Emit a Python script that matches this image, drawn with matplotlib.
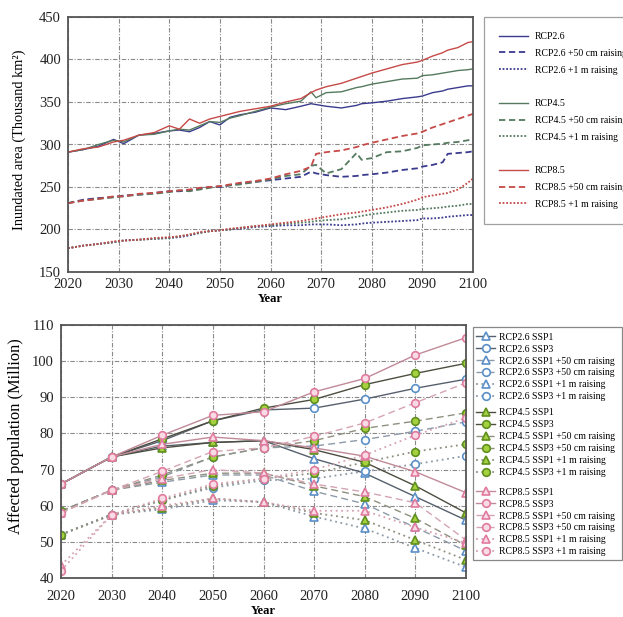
import matplotlib
matplotlib.use("Agg")
import matplotlib.pyplot as plt
from matplotlib.lines import Line2D
from matplotlib.patches import Rectangle

plt.rcParams['font.family'] = ['Liberation Serif', 'DejaVu Serif']

# ---------------- Top panel data (inundated area, thousand km2) ----------------
top_years = [2020, 2023, 2026, 2029, 2031, 2034, 2037, 2040, 2042, 2044, 2046, 2048,
             2050, 2052, 2054, 2057, 2060, 2063, 2066, 2068, 2069, 2071, 2074, 2077,
             2078, 2080, 2083, 2086, 2089, 2090, 2092, 2094, 2095, 2097, 2099, 2100]

rcp26 = [291, 294, 298, 306, 301, 311, 313, 316, 317, 315, 320, 327,
         323, 332, 335, 338, 343, 341, 345, 348, 347, 345, 343, 346,
         348, 349, 351, 354, 356, 357, 361, 363, 365, 367, 369, 369]
rcp45 = [291, 294, 300, 305, 303, 311, 312, 316, 318, 317, 322, 327,
         326, 331, 334, 339, 344, 348, 351, 362, 355, 361, 362, 367,
         368, 371, 374, 377, 378, 381, 382, 384, 385, 387, 388, 389]
rcp85 = [291, 295, 297, 303, 305, 311, 314, 322, 318, 330, 325, 330,
         333, 336, 339, 342, 345, 350, 354, 361, 364, 368, 372, 378,
         380, 384, 389, 394, 397, 399, 404, 408, 411, 414, 420, 421]

rcp26_50 = [231, 235, 237, 238, 240, 241, 243, 245, 245, 246, 248, 250,
            250, 252, 254, 256, 258, 260, 262, 268, 266, 264, 262, 263,
            264, 265, 267, 270, 272, 274, 276, 279, 289, 290, 291, 292]
rcp45_50 = [231, 234, 236, 238, 239, 241, 242, 244, 246, 245, 247, 249,
            251, 252, 253, 256, 259, 263, 265, 275, 276, 266, 271, 290,
            282, 284, 291, 292, 296, 299, 300, 301, 302, 303, 305, 306]
rcp85_50 = [231, 234, 236, 239, 239, 242, 243, 245, 246, 247, 249, 250,
            251, 253, 255, 257, 260, 265, 269, 274, 289, 291, 293, 297,
            299, 302, 306, 310, 313, 315, 320, 324, 326, 330, 334, 336]

rcp26_1m = [178, 181, 183, 185, 187, 188, 189, 190, 191, 193, 196, 198,
            199, 200, 201, 203, 204, 205, 205, 206, 206, 206, 205, 206,
            207, 208, 209, 210, 211, 213, 213, 214, 215, 216, 217, 217]
rcp45_1m = [178, 181, 183, 185, 187, 188, 189, 190, 192, 194, 196, 198,
            199, 200, 202, 204, 205, 207, 208, 209, 210, 211, 212, 215,
            216, 218, 220, 222, 223, 224, 225, 226, 227, 228, 230, 230]
rcp85_1m = [178, 181, 183, 186, 187, 188, 190, 191, 192, 194, 197, 198,
            199, 201, 202, 204, 206, 208, 210, 212, 213, 215, 218, 220,
            221, 223, 226, 230, 235, 238, 240, 242, 243, 247, 255, 260]

top_labels = ['RCP2.6', 'RCP2.6 +50 cm raising', 'RCP2.6 +1 m raising',
              'RCP4.5', 'RCP4.5 +50 cm raising', 'RCP4.5 +1 m raising',
              'RCP8.5', 'RCP8.5 +50 cm raising', 'RCP8.5 +1 m raising']

# ---------------- Bottom panel data (affected population, million) ----------------
pop_years = [2020, 2030, 2040, 2050, 2060, 2070, 2080, 2090, 2100]

r26_ssp1 = [66, 73.5, 76.5, 77.5, 78, 73, 69, 62.5, 56]
r26_ssp3 = [66, 73.5, 78, 83.5, 86.5, 87, 89.5, 92.5, 95]
r26_ssp1_50 = [58.5, 64.3, 66.5, 68.5, 68.5, 64, 60.5, 54, 47.5]
r26_ssp3_50 = [58.5, 64.3, 68, 73.5, 76, 76.5, 78.3, 80.6, 83.2]
r26_ssp1_1m = [52, 57.5, 59, 61.5, 61, 57, 53.7, 48.3, 43]
r26_ssp3_1m = [52, 57.5, 61.5, 65, 67, 67.5, 69.5, 71.5, 73.8]

r45_ssp1 = [66, 73.5, 76, 77.5, 78, 75.5, 72, 65.5, 58]
r45_ssp3 = [66, 73.5, 78.5, 83.5, 87, 89.4, 93.5, 96.6, 99.4]
r45_ssp1_50 = [58.5, 64.3, 67, 69, 69, 65.5, 62.5, 56.5, 49]
r45_ssp3_50 = [58.5, 64.3, 68.5, 73.5, 76, 78, 81.4, 83.4, 85.7]
r45_ssp1_1m = [52, 57.5, 59.5, 62, 61, 58, 56, 50.5, 45]
r45_ssp3_1m = [52, 57.5, 61.5, 65.5, 67.5, 69, 72, 75, 77]

r85_ssp1 = [66, 73.5, 77, 79, 78, 76, 73.7, 69.4, 63.6]
r85_ssp3 = [66, 73.5, 79.5, 85, 86, 91.5, 95.2, 101.7, 106.5]
r85_ssp1_50 = [58, 64.3, 67.5, 70, 69, 66, 63.8, 60.8, 50.5]
r85_ssp3_50 = [58, 64.3, 69.5, 75, 76, 79.2, 82.9, 88.5, 94]
r85_ssp1_1m = [43.5, 57.5, 60, 62, 61, 58.6, 58.6, 54, 49.7]
r85_ssp3_1m = [42, 57.5, 62, 66, 67.5, 70, 74, 79.5, 84.3]

pop_labels = ['RCP2.6 SSP1', 'RCP2.6 SSP3', 'RCP2.6 SSP1 +50 cm raising',
              'RCP2.6 SSP3 +50 cm raising', 'RCP2.6 SSP1 +1 m raising', 'RCP2.6 SSP3 +1 m raising',
              'RCP4.5 SSP1', 'RCP4.5 SSP3', 'RCP4.5 SSP1 +50 cm raising',
              'RCP4.5 SSP3 +50 cm raising', 'RCP4.5 SSP1 +1 m raising', 'RCP4.5 SSP3 +1 m raising',
              'RCP8.5 SSP1', 'RCP8.5 SSP3', 'RCP8.5 SSP1 +50 cm raising',
              'RCP8.5 SSP3 +50 cm raising', 'RCP8.5 SSP1 +1 m raising', 'RCP8.5 SSP3 +1 m raising']

# ---------------- Figure ----------------
W, H = 623, 617
fig = plt.figure(figsize=(W / 100, H / 100), dpi=100)

def fx(px):
    return px / W

def fy(py):
    return 1 - py / H

grid_kw = dict(color='#8a8a8a', linestyle=(0, (4, 1.5, 1, 1.5)), linewidth=0.8)
tick_fs = 10.5

def style_axes(ax, xpad):
    for s in ax.spines.values():
        s.set_color('#555555')
        s.set_linewidth(1.3)
    ax.tick_params(length=0, labelsize=tick_fs, colors='#222222')
    ax.tick_params(axis='y', pad=5)
    ax.tick_params(axis='x', pad=xpad)
    ax.grid(True, **grid_kw)
    ax.set_axisbelow(True)

# ---- top axes ----
ax1 = fig.add_axes([fx(68), fy(272), fx(405), 255 / H])
c26, c45, c85 = '#3b3b8e', '#557a5f', '#c64a48'
top_series = [(rcp26, c26, '-'), (rcp26_50, c26, (0, (3.5, 2))), (rcp26_1m, c26, (0, (1, 1))),
              (rcp45, c45, '-'), (rcp45_50, c45, (0, (3.5, 2))), (rcp45_1m, c45, (0, (1, 1))),
              (rcp85, c85, '-'), (rcp85_50, c85, (0, (3.5, 2))), (rcp85_1m, c85, (0, (1, 1)))]
top_handles = []
for (vals, col, ls), lab in zip(top_series, top_labels):
    lw = 1.0 if ls == '-' else 1.3
    h, = ax1.plot(top_years, vals, color=col, linestyle=ls, linewidth=lw, label=lab)
    top_handles.append(h)
ax1.set_xlim(2020, 2100)
ax1.set_ylim(150, 450)
ax1.set_xticks(range(2020, 2101, 10))
ax1.set_yticks(range(150, 451, 50))
style_axes(ax1, 4)
ax1.set_ylabel('Inundated area (Thousand km²)', fontsize=10.4)
ax1.yaxis.set_label_coords(-42 / 405, 0.518)
ax1.set_xlabel('Year', fontsize=9, labelpad=2, fontweight='bold')

blank = Line2D([], [], color='none')
hl = top_handles[:3] + [blank] + top_handles[3:6] + [blank] + top_handles[6:]
ll = top_labels[:3] + [' '] + top_labels[3:6] + [' '] + top_labels[6:]
leg1 = fig.legend(hl, ll, loc='upper left', bbox_to_anchor=(fx(484), fy(17)),
                  bbox_transform=fig.transFigure, fontsize=7, frameon=True, fancybox=False,
                  edgecolor='#888888', handlelength=3.0, handletextpad=0.7,
                  labelspacing=0.8, borderpad=1.55, borderaxespad=0)
leg1.get_frame().set_linewidth(0.9)

# ---- bottom axes ----
ax2 = fig.add_axes([fx(61), fy(578), fx(405), 253 / H])
rcp_styles = {
    '26': dict(edge='#5a8fc8', face='white', line='#56606c', light='#8d9aa8'),
    '45': dict(edge='#5f8f1f', face='#a6d13e', line='#4d4d40', light='#8f8f80'),
    '85': dict(edge='#e07a9e', face='#f9dbe6', line='#c08a98', light='#d4a4b2'),
}
pop_series = [
    (r26_ssp1, '26', '^', '-'), (r26_ssp3, '26', 'o', '-'),
    (r26_ssp1_50, '26', '^', '--'), (r26_ssp3_50, '26', 'o', '--'),
    (r26_ssp1_1m, '26', '^', ':'), (r26_ssp3_1m, '26', 'o', ':'),
    (r45_ssp1, '45', '^', '-'), (r45_ssp3, '45', 'o', '-'),
    (r45_ssp1_50, '45', '^', '--'), (r45_ssp3_50, '45', 'o', '--'),
    (r45_ssp1_1m, '45', '^', ':'), (r45_ssp3_1m, '45', 'o', ':'),
    (r85_ssp1, '85', '^', '-'), (r85_ssp3, '85', 'o', '-'),
    (r85_ssp1_50, '85', '^', '--'), (r85_ssp3_50, '85', 'o', '--'),
    (r85_ssp1_1m, '85', '^', ':'), (r85_ssp3_1m, '85', 'o', ':'),
]
pop_handles = []
for (vals, rcp, mk, ls), lab in zip(pop_series, pop_labels):
    st = rcp_styles[rcp]
    if ls == '-':
        lc, lw, lsx = st['line'], 1.0, '-'
    elif ls == '--':
        lc, lw, lsx = st['light'], 1.0, (0, (5, 3))
    else:
        lc, lw, lsx = st['light'], 1.3, (0, (1, 2))
    h, = ax2.plot(pop_years, vals, color=lc, linestyle=lsx, linewidth=lw,
                  marker=mk, markersize=5.5, markerfacecolor=st['face'],
                  markeredgecolor=st['edge'], markeredgewidth=1.2, label=lab)
    pop_handles.append(h)
ax2.set_xlim(2020, 2100)
ax2.set_ylim(40, 110)
ax2.set_xticks(range(2020, 2101, 10))
ax2.set_yticks(range(40, 111, 10))
style_axes(ax2, 9)
ax2.set_ylabel('Affected population (Million)', fontsize=11.8)
ax2.yaxis.set_label_coords(-37 / 405, 0.561)
ax2.set_xlabel('Year', fontsize=9, labelpad=1, fontweight='bold')

# legend frame for bottom panel
fig.add_artist(Rectangle((fx(473), fy(560)), fx(149), 233 / H, transform=fig.transFigure,
                         facecolor='white', edgecolor='#888888', linewidth=0.9))
centers = [367, 442.7, 522]
for gi, cy in enumerate(centers):
    lg = fig.legend(pop_handles[gi * 6:(gi + 1) * 6], pop_labels[gi * 6:(gi + 1) * 6],
                    loc='center left', bbox_to_anchor=(fx(476), fy(cy)),
                    bbox_transform=fig.transFigure, fontsize=7, frameon=False,
                    handlelength=2.0, handletextpad=0.35, labelspacing=0.3,
                    borderpad=0, borderaxespad=0)

fig.savefig('out.png', dpi=100)
